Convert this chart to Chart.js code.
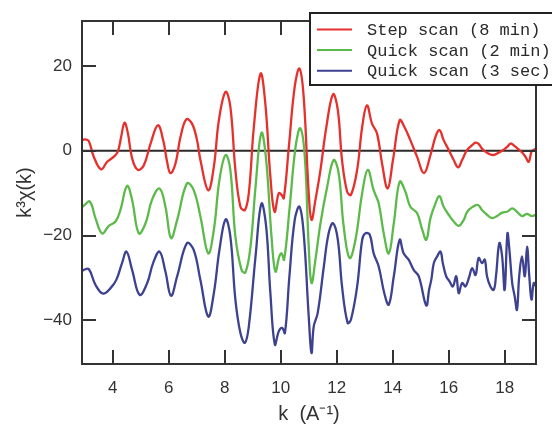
<!DOCTYPE html>
<html>
<head>
<meta charset="utf-8">
<title>k3 chi(k)</title>
<script src="https://cdn.jsdelivr.net/npm/chart.js@4.4.1/dist/chart.umd.min.js"></script>
<style>
  html, body { margin: 0; padding: 0; background: #fff; }
</style>
</head>
<body>
<canvas id="exafsChart" width="552" height="426"></canvas>
<script>
/* ---- data ---- */
const xTicks = [4, 6, 8, 10, 12, 14, 16, 18];
const yTicks = [20, 0, -20, -40];
const seriesNames = ['Step scan (8 min)', 'Quick scan (2 min)', 'Quick scan (3 sec)'];

const stepK = [2.92, 3.0, 3.14, 3.32, 3.58, 3.8, 4.04, 4.18, 4.3, 4.42, 4.54, 4.69, 4.89, 5.11, 5.35, 5.61, 5.8, 5.94, 6.06, 6.24, 6.42, 6.63, 6.83, 7.01, 7.13, 7.41, 7.61, 7.79, 8.03, 8.2, 8.38, 8.56, 8.72, 8.86, 9.04, 9.28, 9.45, 9.63, 9.78, 9.93, 10.03, 10.11, 10.29, 10.5, 10.67, 10.82, 11.0, 11.1, 11.24, 11.42, 11.63, 11.87, 12.04, 12.19, 12.37, 12.51, 12.73, 12.91, 13.08, 13.26, 13.44, 13.62, 13.82, 14.01, 14.25, 14.42, 14.63, 14.87, 15.12, 15.35, 15.53, 15.67, 15.82, 16.0, 16.18, 16.34, 16.48, 16.66, 16.84, 16.96, 17.07, 17.19, 17.31, 17.46, 17.61, 17.77, 17.91, 18.09, 18.21, 18.36, 18.5, 18.65, 18.74, 18.86, 18.96, 19.04, 19.12];
const stepScan = [2.5, 2.7, 2.3, -1.4, -4.4, -2.6, -1.4, -0.2, 3.3, 6.6, 4.1, -1.8, -4.5, -3.4, 1.7, 6.0, 2.5, -2.6, -5.3, -3.0, 3.3, 7.4, 6.4, 2.5, -2.2, -9.3, -3.8, 7.2, 13.9, 10.4, -4.5, -13.2, -14.0, -10.0, 5.6, 18.2, 11.1, -6.1, -14.4, -10.0, -10.4, -11.2, 0.9, 15.1, 19.4, 12.7, -10.0, -16.3, -11.6, -4.5, 5.6, 13.3, 9.6, -2.2, -9.6, -10.4, -4.5, 5.6, 10.7, 6.4, 4.1, -3.0, -8.9, -2.2, 7.2, 5.6, 2.5, -1.4, -5.3, -1.0, 3.3, 4.9, 2.5, 0.2, -2.2, -3.9, -2.2, 0.2, 1.3, 1.9, 1.6, 0.5, -0.2, -0.8, -1.0, -0.5, 0.0, 0.9, 1.7, 1.1, 0.3, -0.6, -1.4, -2.6, -0.2, 0.2, 0.5];

const quick2K = [2.92, 2.96, 3.18, 3.38, 3.62, 3.86, 4.1, 4.27, 4.51, 4.69, 4.93, 5.17, 5.4, 5.67, 5.88, 6.08, 6.3, 6.65, 6.89, 7.13, 7.41, 7.61, 7.81, 8.03, 8.2, 8.38, 8.6, 8.74, 8.92, 9.1, 9.31, 9.48, 9.67, 9.81, 9.95, 10.03, 10.12, 10.31, 10.53, 10.7, 10.86, 11.0, 11.1, 11.24, 11.42, 11.66, 11.89, 12.07, 12.25, 12.46, 12.67, 12.91, 13.11, 13.32, 13.5, 13.68, 13.86, 14.04, 14.25, 14.45, 14.63, 14.87, 15.05, 15.2, 15.35, 15.53, 15.67, 15.82, 16.0, 16.18, 16.36, 16.54, 16.66, 16.84, 17.05, 17.19, 17.37, 17.55, 17.73, 17.91, 18.09, 18.27, 18.44, 18.62, 18.8, 18.96, 19.12];
const quick2 = [-13.2, -13.0, -12.0, -15.9, -19.5, -17.7, -16.7, -14.0, -8.3, -11.6, -19.5, -17.1, -11.6, -8.9, -13.2, -20.6, -16.3, -7.7, -9.3, -15.5, -24.2, -18.7, -6.9, -1.0, -4.5, -20.2, -28.1, -28.7, -22.6, -8.5, 4.2, -2.2, -20.2, -28.5, -24.9, -24.2, -25.7, -14.0, 0.9, 5.3, -1.4, -22.6, -31.2, -25.7, -17.1, -8.5, -2.2, -5.3, -17.9, -25.3, -21.0, -10.0, -4.5, -9.3, -12.4, -19.5, -24.2, -17.1, -7.3, -9.6, -13.2, -14.7, -18.5, -21.0, -15.9, -12.4, -10.7, -13.2, -15.1, -16.7, -17.7, -16.3, -14.4, -13.3, -12.8, -14.0, -15.1, -15.9, -15.4, -14.6, -14.4, -13.6, -14.4, -15.4, -14.9, -15.4, -15.1];

const quick3K = [2.92, 2.96, 3.14, 3.38, 3.65, 3.92, 4.13, 4.33, 4.49, 4.69, 4.96, 5.23, 5.44, 5.67, 5.88, 6.08, 6.3, 6.65, 6.89, 7.13, 7.41, 7.61, 7.81, 8.03, 8.2, 8.38, 8.56, 8.72, 8.86, 9.1, 9.31, 9.48, 9.63, 9.79, 9.93, 10.05, 10.15, 10.31, 10.5, 10.67, 10.82, 11.0, 11.1, 11.18, 11.32, 11.54, 11.71, 11.87, 12.04, 12.19, 12.39, 12.51, 12.73, 12.91, 13.02, 13.18, 13.32, 13.5, 13.7, 13.86, 14.04, 14.25, 14.39, 14.57, 14.75, 14.93, 15.2, 15.3, 15.38, 15.47, 15.59, 15.71, 15.79, 15.91, 16.03, 16.15, 16.27, 16.36, 16.48, 16.6, 16.74, 16.84, 16.96, 17.07, 17.19, 17.29, 17.37, 17.49, 17.61, 17.69, 17.81, 17.91, 18.0, 18.1, 18.17, 18.27, 18.36, 18.44, 18.52, 18.62, 18.72, 18.8, 18.88, 18.96, 19.04, 19.12];
const quick3 = [-28.3, -28.1, -27.9, -31.6, -33.7, -32.4, -30.4, -26.5, -23.8, -28.1, -34.0, -31.2, -26.5, -23.8, -28.5, -34.2, -29.6, -21.8, -23.4, -30.5, -39.1, -33.6, -23.4, -16.2, -20.2, -35.1, -43.0, -45.3, -41.4, -24.9, -12.5, -17.9, -33.6, -45.7, -42.6, -41.8, -43.0, -29.6, -16.3, -13.2, -19.5, -39.1, -47.7, -41.4, -38.3, -27.3, -19.5, -17.1, -21.0, -32.0, -40.6, -39.8, -32.0, -21.0, -19.5, -19.8, -24.2, -27.3, -33.6, -36.3, -29.6, -21.0, -24.2, -25.7, -28.1, -29.6, -36.5, -32.8, -30.4, -26.5, -24.9, -23.8, -26.5, -29.6, -30.8, -32.0, -29.6, -33.6, -31.2, -32.0, -29.6, -27.7, -29.3, -25.3, -26.5, -25.7, -29.6, -32.0, -32.8, -29.6, -21.8, -24.9, -32.8, -19.5, -23.4, -31.2, -34.4, -37.5, -29.6, -24.9, -29.6, -22.6, -29.6, -35.1, -31.2, -32.0];

const toPoints = (ks, vs) => ks.map((k, i) => ({ x: k, y: vs[i] }));

/* ---- frame, inside ticks, zero line and boxed legend ---- */
const framePlugin = {
  id: 'frame',
  beforeDatasetsDraw(chart) {
    const { ctx, chartArea: a, scales: { y } } = chart;
    const y0 = y.getPixelForValue(0);
    ctx.save();
    ctx.strokeStyle = '#2a2a2a';
    ctx.lineWidth = 2;
    ctx.beginPath();
    ctx.moveTo(a.left, y0);
    ctx.lineTo(a.right, y0);
    ctx.stroke();
    ctx.restore();
  },
  afterDatasetsDraw(chart) {
    const { ctx, chartArea: a, scales: { x, y } } = chart;
    const len = 14;
    ctx.save();
    ctx.strokeStyle = '#333';
    ctx.lineWidth = 2;
    ctx.strokeRect(a.left, a.top, a.right - a.left, a.bottom - a.top);
    ctx.beginPath();
    xTicks.forEach(v => {
      const px = Math.round(x.getPixelForValue(v));
      ctx.moveTo(px, a.bottom); ctx.lineTo(px, a.bottom - len);
      ctx.moveTo(px, a.top); ctx.lineTo(px, a.top + len);
    });
    yTicks.forEach(v => {
      const py = Math.round(y.getPixelForValue(v));
      ctx.moveTo(a.left, py); ctx.lineTo(a.left + len, py);
      ctx.moveTo(a.right, py); ctx.lineTo(a.right - len, py);
    });
    ctx.stroke();
    ctx.restore();
  },
  afterDraw(chart) {
    const { ctx } = chart;
    const box = { left: 310, top: 13, right: 560, bottom: 85 };
    ctx.save();
    ctx.fillStyle = '#fff';
    ctx.fillRect(box.left, box.top, box.right - box.left, box.bottom - box.top);
    ctx.strokeStyle = '#222';
    ctx.lineWidth = 2;
    ctx.strokeRect(box.left, box.top, box.right - box.left, box.bottom - box.top);
    ctx.font = '17px "Liberation Mono", "DejaVu Sans Mono", monospace';
    ctx.textBaseline = 'middle';
    chart.data.datasets.forEach((ds, i) => {
      const ry = box.top + 16.5 + i * 20.6;
      ctx.strokeStyle = ds.borderColor;
      ctx.lineWidth = 2;
      ctx.beginPath();
      ctx.moveTo(317, ry);
      ctx.lineTo(352, ry);
      ctx.stroke();
      ctx.fillStyle = '#2a2a2a';
      ctx.fillText(ds.label, 367, ry + 1);
    });
    ctx.restore();
  }
};

const tickFont = { family: '"Liberation Sans", Arial, sans-serif', size: 17 };
const titleFont = { family: '"Liberation Sans", Arial, sans-serif', size: 20 };
const minus = v => String(v).replace('-', '\u2212');

new Chart(document.getElementById('exafsChart'), {
  type: 'line',
  data: {
    datasets: [
      { label: seriesNames[0], data: toPoints(stepK, stepScan), borderColor: '#e6302c' },
      { label: seriesNames[1], data: toPoints(quick2K, quick2), borderColor: '#5cba4a' },
      { label: seriesNames[2], data: toPoints(quick3K, quick3), borderColor: '#3c4190' }
    ]
  },
  options: {
    responsive: false,
    animation: false,
    devicePixelRatio: 1,
    layout: { padding: { top: 21, right: 16, left: 0, bottom: 0 } },
    elements: {
      point: { radius: 0 },
      line: { borderWidth: 2.3, tension: 0.4 }
    },
    plugins: { legend: { display: false }, tooltip: { enabled: false } },
    scales: {
      x: {
        type: 'linear',
        min: 2.9,
        max: 19.12,
        afterBuildTicks: s => { s.ticks = xTicks.map(v => ({ value: v })); },
        afterFit: s => { s.height = 62; },
        grid: { display: false, drawTicks: false },
        border: { display: false },
        ticks: { font: tickFont, color: '#333', padding: 14, maxRotation: 0, autoSkip: false },
        title: {
          display: true,
          text: 'k  (A\u207B\u00B9)',
          font: titleFont,
          color: '#333',
          padding: { top: 0, bottom: 0 }
        }
      },
      y: {
        min: -50.3,
        max: 30.6,
        afterBuildTicks: s => { s.ticks = yTicks.map(v => ({ value: v })); },
        afterFit: s => { s.width = 82; },
        grid: { display: false, drawTicks: false },
        border: { display: false },
        ticks: { font: tickFont, color: '#333', padding: 10, callback: minus },
        title: {
          display: true,
          text: 'k\u00B3\u03C7(k)',
          font: titleFont,
          color: '#333',
          padding: { top: 13, bottom: 0 }
        }
      }
    }
  },
  plugins: [framePlugin]
});
</script>
</body>
</html>
